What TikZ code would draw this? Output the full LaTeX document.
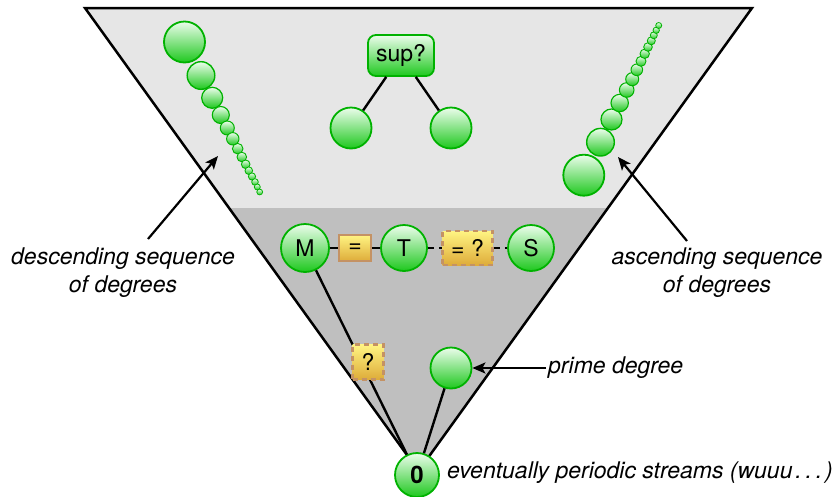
\documentclass[tikz,border=0pt]{standalone}
\usepackage{fontspec}
\setmainfont{TeX Gyre Heros}
\usetikzlibrary{arrows.meta,calc}
\definecolor{lightgray1}{RGB}{230,230,230}
\definecolor{darkgray1}{RGB}{191,191,191}
\definecolor{balltop}{RGB}{236,253,236}
\definecolor{ballbot}{RGB}{30,200,30}
\definecolor{ballline}{RGB}{0,178,0}
\definecolor{boxtop}{RGB}{255,244,130}
\definecolor{boxbot}{RGB}{222,172,58}
\definecolor{boxline}{RGB}{196,146,100}
\begin{document}
\begin{tikzpicture}[x=1pt,y=-1pt,
  every node/.style={font=\fontsize{23}{28}\selectfont},
  ball/.style={circle, draw=ballline, top color=balltop, bottom color=ballbot, inner sep=0pt, line width=1.8pt},
  eqbox/.style={rectangle, draw=boxline, top color=boxtop, bottom color=boxbot, line width=2.8pt, inner sep=0pt, solid},
  dbox/.style={eqbox, dash pattern=on 5pt off 4pt},
  conn/.style={line width=2.4pt, draw=black},
  arr/.style={line width=2.2pt, -{Stealth[length=13pt,width=11pt,inset=3pt]}},
  lbl/.style={font=\fontsize{23}{28}\selectfont\itshape, align=center}]
\useasboundingbox (0,0) rectangle (838,496);
% funnel
\coordinate (TL) at (85,8);
\coordinate (TR) at (752,8);
\coordinate (AP) at (418.5,471);
\fill[lightgray1] (TL) -- (TR) -- (AP) -- cycle;
\fill[darkgray1] ($(TL)!0.432!(AP)$) -- ($(TR)!0.432!(AP)$) -- (AP) -- cycle;
\draw[line width=2.5pt] (TL) -- (TR) -- (AP) -- cycle;
% descending balls
\foreach \x/\y/\r [count=\i] in {184.5/42/20.5, 201/75.5/13.8, 212.2/97.8/10.5, 220.8/115/8.5, 227.3/128/7, 232.8/138.8/6.2, 237.7/148.7/5.3, 241.8/157/4.8, 245.7/164.3/4.3, 248.8/170.7/3.8, 252/176.5/3.6, 255/182/3.3, 257.3/187/3, 259.7/192/2.9}
  {\pgfmathsetmacro\lw{min(1.8,0.6+0.06*\r)}
   \node[ball, minimum size=2*\r pt, line width=\lw pt] (d\i) at (\x,\y) {};}
% ascending balls
\foreach \x/\y/\r [count=\i] in {583.8/175.2/20.5, 600.5/142.2/13.8, 611.5/119.5/10.5, 619.7/103/8.7, 626.7/90/7.3, 632.2/79.2/6.5, 636.8/69.8/5.8, 641/61.3/5, 644.7/53.8/4.7, 648/47/4.3, 651.3/40.8/4, 653.8/35.3/3.5, 656.2/30.3/3.2, 658.7/25.5/3}
  {\pgfmathsetmacro\lw{min(1.8,0.6+0.06*\r)}
   \node[ball, minimum size=2*\r pt, line width=\lw pt] (a\i) at (\x,\y) {};}
% sup
\node[ball, rectangle, rounded corners=8pt, minimum width=66pt, minimum height=41pt] (sup) at (401,55.5) {sup?};
\node[ball, minimum size=41pt] (sl) at (351,128) {};
\node[ball, minimum size=41pt] (sr) at (451,128) {};
\draw[conn] (sup) -- (sl);
\draw[conn] (sup) -- (sr);
% middle row
\node[ball, minimum size=48pt] (M) at (305,248) {M};
\node[ball, minimum size=46pt] (T) at (404,248) {T};
\node[ball, minimum size=46pt] (S) at (531,248) {S};
\node[ball, minimum size=44pt, font=\fontsize{24}{28}\selectfont\bfseries] (Z) at (417,475) {0};
\node[ball, minimum size=41pt] (P) at (451,368) {};
\draw[conn] (M) -- node[eqbox, minimum width=32pt, minimum height=26pt] (eq) {=} (T);
\draw[conn, dash pattern=on 6pt off 5pt] (T) -- node[dbox, minimum width=50pt, minimum height=34pt] (eqq) {= ?} (S);
\draw[conn] (M) -- (Z);
\node[dbox, minimum width=31pt, minimum height=35pt] (q) at (368,362) {?};
\draw[conn] (P) -- (Z);
% labels
\node[lbl] (dl) at (123,273) {descending sequence\\of degrees};
\node[lbl] (al) at (717,273) {ascending sequence\\of degrees};
\node[lbl, anchor=west, inner sep=2pt] (pl) at (546,368) {prime degree};
\node[lbl, anchor=west, inner sep=2pt] (el) at (445,473) {eventually periodic streams (wuuu\kern0.12em.\kern0.17em.\kern0.17em.\kern0.12em)};
\coordinate (dstart) at (148,239);
\coordinate (dtip) at (218,156);
\coordinate (astart) at (687,241);
\coordinate (atip) at (618,157);
\draw[arr] (dstart) -- (dtip);
\draw[arr] (astart) -- (atip);
\draw[arr] (pl) -- (P);
\end{tikzpicture}
\end{document}
